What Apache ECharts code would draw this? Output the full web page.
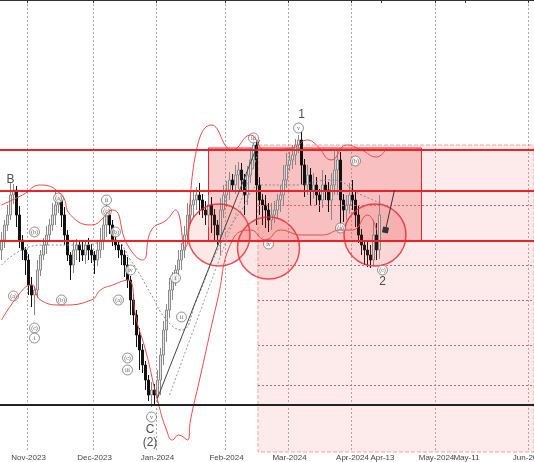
<!DOCTYPE html>
<html><head><meta charset="utf-8">
<script src="https://cdn.jsdelivr.net/npm/echarts@6/dist/echarts.min.js"></script>
<style>html,body{margin:0;padding:0;background:#fff;overflow:hidden}#c{width:534px;height:462px}</style>
</head><body><div id="c"></div>
<script>
// price values expressed on an inverted scale (larger = lower price)
const closes = [240,225,215,195,190,215,240,250,260,285,
295,290,270,255,245,235,225,215,205,200,
215,235,255,265,250,245,250,255,245,250,
255,260,250,240,225,215,225,240,245,250,
255,265,280,300,315,335,350,365,380,395,
390,395,380,355,330,310,290,280,270,260,
250,235,215,205,200,195,200,210,215,205,
215,225,235,210,195,190,180,185,175,170,
180,195,175,160,145,185,200,205,210,220,
215,210,200,195,180,165,160,155,145,140,
165,185,175,190,185,195,200,185,190,200,
185,170,160,200,210,205,195,200,215,235,
245,250,255,260,235,250,215];
const opens = [250,240,225,215,195,190,215,240,250,260,
285,295,290,270,255,245,235,225,215,205,
200,215,235,255,265,250,245,250,255,245,
250,255,260,250,240,225,215,225,240,245,
250,255,265,280,300,315,335,350,365,380,
395,390,395,380,355,330,310,290,280,270,
260,250,235,215,205,200,195,200,210,215,
205,215,225,235,210,195,190,180,185,175,
170,180,195,175,160,145,185,200,205,210,
220,215,210,200,195,180,165,160,155,145,
140,165,185,175,190,185,195,200,185,190,
200,185,170,160,200,210,205,195,200,215,
235,245,250,255,260,235,250];
const wickUp = [8,5,10,12,6,4,9,5,3,6,8,4,10,5,7,9,6,12,15,5,
4,8,5,3,10,6,4,8,5,7,6,4,9,12,8,20,6,5,7,4,
6,5,8,4,6,5,7,6,4,5,8,6,10,7,9,6,12,8,5,10,
7,9,12,15,10,8,12,6,9,10,8,6,5,12,10,9,8,6,10,8,
7,6,9,12,6,5,8,6,10,7,12,9,6,10,15,12,8,10,6,5,
8,6,10,7,12,8,6,15,10,8,12,20,10,8,6,10,12,15,8,10,
6,5,8,10,15,12,20];
const wickDn = [10,8,6,5,9,12,8,10,15,10,12,20,8,6,5,9,7,6,10,8,
12,10,6,15,8,10,12,6,9,10,8,14,6,8,10,12,9,6,5,8,
10,12,8,15,10,12,20,8,10,6,12,10,8,15,10,12,8,10,6,12,
10,8,6,9,12,10,15,8,10,12,18,15,10,20,8,12,10,6,9,14,
12,20,10,8,9,40,15,20,18,12,10,8,9,12,10,8,6,9,10,8,
20,12,10,15,9,10,12,8,10,12,20,10,25,30,12,10,9,10,12,8,
10,15,12,8,6,10,9];
// Bollinger bands [barIndex, value]
const bbUpper = [[0,205],[7,195],[13,185],[20,195],[23,215],[30,225],[37,210],[42,245],[47,260],[50,230],[55,220],[58,210],[61,248],[65,150],[70,125],[77,150],[83,135],[88,150],[97,148],[102,140],[105,145],[110,160],[115,145],[120,150],[125,157],[128,150]];
const bbLower = [[0,320],[7,290],[10,285],[13,300],[20,305],[30,300],[33,290],[37,285],[42,280],[45,320],[48,350],[52,400],[55,430],[57,440],[59,435],[62,440],[63,420],[66,380],[72,300],[77,240],[83,230],[88,240],[93,230],[100,235],[107,235],[113,230],[117,230],[122,215],[125,230]];
const bbMid = [[0,265],[13,245],[27,245],[37,240],[43,260],[50,295],[55,320],[60,330],[65,300],[72,250],[80,210],[87,185],[97,185],[110,180],[120,195],[128,205]];
const levels = [150,191,241];
const support = 405;
const dottedLevels = [205,265,300,345,385];
const circles = [[72.5,235],[89,248],[124.5,235]];
const waveLabels = [["B",3,180],["1",100,115],["2",127,282],["C",49.5,430],["(2)",49.5,443]];
const smallLabels = [["(a)",4,296],["(c)",11,328],["i",11,338],["(b)",11,232],["(a)",19,198],["(b)",20,300],["(c)",35,211],["ii",35,200],["(b)",38,232],["(a)",39,300],["iv",43,270],["(c)",42,358],["iii",42,370],["v",50,417],["i",58,278],["ii",60,317],["iii",84,138],["v",99,128],["iv",89,244],["(b)",118,161],["(a)",113,228],["(c)",127,270]];

const cats = [];
{ let d = new Date(Date.UTC(2023,9,19)); const sw = Date.UTC(2024,3,13);
  while (cats.length < 178) { const wd = d.getUTCDay();
    if (d.getTime() >= sw || (wd !== 0 && wd !== 6)) cats.push(new Date(d.getTime()));
    d = new Date(d.getTime() + 86400000); } }
const mon = ['Jan','Feb','Mar','Apr','May','Jun','Jul','Aug','Sep','Oct','Nov','Dec'];
const labelFor = i => { const d = cats[i], p = i>0?cats[i-1]:null;
  if (p && d.getUTCMonth() !== p.getUTCMonth()) return mon[d.getUTCMonth()]+'-'+d.getUTCFullYear();
  if (d.getUTCFullYear()===2024 && ((d.getUTCMonth()===3&&d.getUTCDate()===13)||(d.getUTCMonth()===4&&d.getUTCDate()===11))) return mon[d.getUTCMonth()]+'-'+d.getUTCDate();
  return ''; };
const labels = cats.map((_,i)=>labelFor(i));
const candle = closes.map((c,i)=>{ const o=opens[i]; return [o,c,Math.min(o,c)-wickUp[i],Math.max(o,c)+wickDn[i]]; });
const ch = echarts.init(document.getElementById('c'),null,{width:534,height:462});
const red='#e8232a';
ch.setOption({
  animation:false,
  grid:{left:0,right:0,top:0,bottom:10,containLabel:false,outerBoundsMode:'none'},
  xAxis:[{type:'category',data:labels,boundaryGap:true,
    axisLine:{lineStyle:{color:'#333',width:2}},axisTick:{show:true,interval:(i)=>labels[i]!=='' ,length:3,lineStyle:{color:'#333'}},
    axisLabel:{interval:(i)=>labels[i]!=='',fontSize:8,color:'#444',margin:2,fontFamily:'Liberation Sans'},
    splitLine:{show:true,interval:(i)=>/20\d\d$/.test(labels[i]),lineStyle:{color:'#aaa',type:[2,2],width:1}}},
   {type:'value',min:-0.5,max:177.5,show:false}],
  yAxis:{type:'value',inverse:true,min:0,max:452,show:false},
  series:[
   {type:'line',xAxisIndex:1,data:[],silent:true,
    markArea:{silent:true,data:[
      [{coord:[85.5,145],itemStyle:{color:'rgba(240,130,130,0.16)',borderColor:'rgba(230,80,80,0.5)',borderType:'dashed',borderWidth:1}},{coord:[177.5,452]}],
      [{coord:[69,148],itemStyle:{color:'rgba(235,80,80,0.28)',borderColor:red,borderWidth:1}},{coord:[140,241]}]]},
    markLine:{silent:true,symbol:'none',label:{show:false},data:[
      ...levels.map(v=>({yAxis:v,lineStyle:{color:red,width:2,type:'solid'}})),
      {yAxis:support,lineStyle:{color:'#222',width:2,type:'solid'}},
      ...dottedLevels.map(v=>[{coord:[85.5,v],lineStyle:{color:'#e06060',width:1,type:[2,2]}},{coord:[177.5,v]}]),
      [{coord:[52,398],lineStyle:{color:'#444',width:1,type:'solid'}},{coord:[86,140]}],
      [{coord:[56,395],lineStyle:{color:'#999',width:1,type:[2,2]}},{coord:[86,150]}],
      [{coord:[128,230],symbol:['none','arrow'],symbolSize:6,lineStyle:{color:'#333',width:1,type:'solid'}},{coord:[131,190]}]]}},
   {type:'line',xAxisIndex:1,data:bbUpper,smooth:true,symbol:'none',lineStyle:{color:'#e84a4a',width:1}},
   {type:'line',xAxisIndex:1,data:bbLower,smooth:true,symbol:'none',lineStyle:{color:'#e84a4a',width:1}},
   {type:'line',xAxisIndex:1,data:bbMid,smooth:true,symbol:'none',lineStyle:{color:'#888',width:1,type:[2,2]}},
   {type:'candlestick',xAxisIndex:0,data:candle,barWidth:3,
    itemStyle:{color:'#111',color0:'#e6e6e6',borderColor:'#111',borderColor0:'#888',borderWidth:1}},
   {type:'scatter',xAxisIndex:1,data:circles,symbolSize:62,
    itemStyle:{color:'rgba(235,60,60,0.15)',borderColor:red,borderWidth:1.5}},
   {type:'scatter',xAxisIndex:1,data:smallLabels.map(l=>({value:[l[1],l[2]],name:l[0]})),symbolSize:10,
    itemStyle:{color:'#fff',borderColor:'#555',borderWidth:0.8},
    label:{show:true,position:'inside',formatter:p=>p.name,fontSize:6,color:'#333',fontFamily:'Liberation Serif'}},
   {type:'scatter',xAxisIndex:1,data:waveLabels.map(l=>({value:[l[1],l[2]],name:l[0]})),symbolSize:1,
    itemStyle:{color:'transparent'},
    label:{show:true,position:'inside',formatter:p=>p.name,fontSize:12,color:'#222',fontFamily:'Liberation Sans'}}
  ]});
</script></body></html>
